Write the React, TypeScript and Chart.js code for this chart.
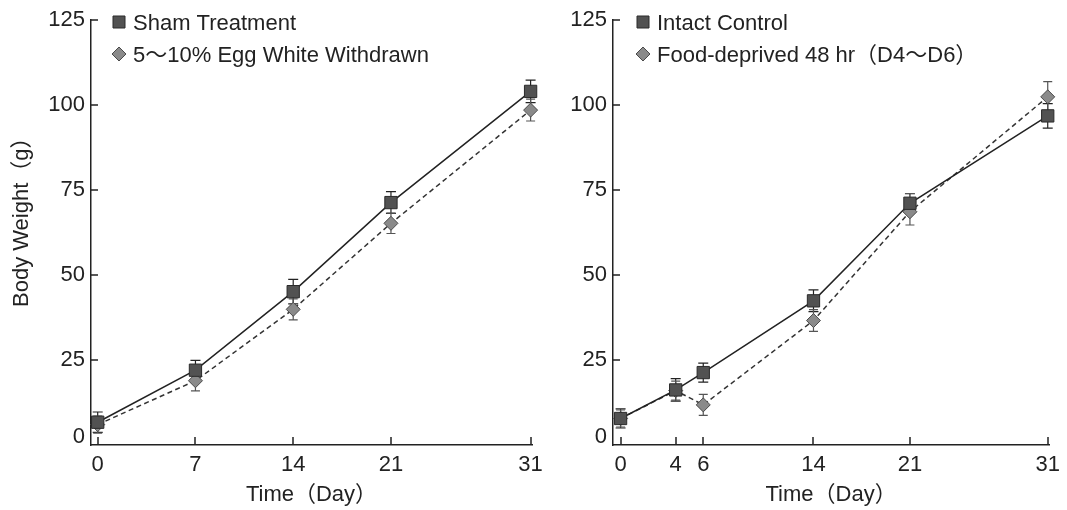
import React, { useEffect, useRef } from 'react';
import { Chart, registerables } from 'chart.js';

Chart.register(...registerables);

const FONT = "'Liberation Sans', 'Noto Sans CJK JP', sans-serif";
const TEXT = '#222';

// ---- Left panel data ----
const leftDays = [0, 7, 14, 21, 31];
const shamWeight = [6.7, 22.0, 45.1, 71.3, 104.0];
const shamErr = [3.0, 2.9, 3.6, 3.2, 3.3];
const eggWeight = [6.0, 18.9, 39.9, 65.2, 98.5];
const eggErr = [2.5, 3.0, 3.1, 3.0, 3.2];
const leftLabels = ['Sham Treatment', '5～10% Egg White Withdrawn'];

// ---- Right panel data ----
const rightDays = [0, 4, 6, 14, 21, 31];
const intactWeight = [7.8, 16.2, 21.3, 42.4, 71.1, 96.8];
const intactErr = [2.8, 3.3, 2.8, 3.2, 2.8, 3.6];
const foodWeight = [7.8, 16.0, 11.8, 36.6, 68.6, 102.4];
const foodErr = [2.5, 2.8, 3.1, 3.2, 3.9, 4.5];
const rightLabels = ['Intact Control', 'Food-deprived 48 hr（D4～D6）'];

// ---- Axis ticks / titles ----
const yTicks = [0, 25, 50, 75, 100, 125];
const xTitle = 'Time（Day）';
const yTitle = 'Body Weight（g）';

const decorPlugin = {
  id: 'decor',
  beforeDatasetsDraw(chart: any) {
    const ctx = chart.ctx;
    const xs = chart.scales.x;
    const ys = chart.scales.y;
    chart.data.datasets.forEach((ds: any) => {
      const errs = ds.errors;
      if (!errs) return;
      const half = ds.capHalf;
      ctx.save();
      ctx.strokeStyle = ds.errColor;
      ctx.lineWidth = 1.2;
      ds.data.forEach((p: any, j: number) => {
        const x = xs.getPixelForValue(p.x);
        const y1 = ys.getPixelForValue(p.y + errs[j]);
        const y2 = ys.getPixelForValue(p.y - errs[j]);
        ctx.beginPath();
        ctx.moveTo(x, y1);
        ctx.lineTo(x, y2);
        ctx.moveTo(x - half, y1);
        ctx.lineTo(x + half, y1);
        ctx.moveTo(x - half, y2);
        ctx.lineTo(x + half, y2);
        ctx.stroke();
      });
      ctx.restore();
    });
  },
  afterDraw(chart: any, _args: any, opts: any) {
    const ctx = chart.ctx;
    const xs = chart.scales.x;
    const ys = chart.scales.y;
    const area = chart.chartArea;
    ctx.save();
    // inward tick marks
    ctx.strokeStyle = '#222';
    ctx.lineWidth = 1.5;
    ctx.beginPath();
    ys.ticks.forEach((t: any) => {
      if (t.value === 0) return;
      const y = Math.round(ys.getPixelForValue(t.value));
      ctx.moveTo(area.left, y);
      ctx.lineTo(area.left + 7, y);
    });
    xs.ticks.forEach((t: any) => {
      const x = Math.round(xs.getPixelForValue(t.value));
      ctx.moveTo(x, area.bottom);
      ctx.lineTo(x, area.bottom - 8);
    });
    ctx.stroke();

    // legend
    ctx.font = `22px ${FONT}`;
    ctx.textBaseline = 'alphabetic';
    ctx.textAlign = 'left';
    chart.data.datasets.forEach((ds: any, i: number) => {
      const cy = opts.legendY[i];
      const cx = opts.markerX;
      ctx.fillStyle = ds.pointBackgroundColor;
      ctx.strokeStyle = ds.pointBorderColor;
      ctx.lineWidth = 1;
      ctx.beginPath();
      if (ds.pointStyle === 'rect') {
        ctx.rect(cx - 6, cy - 6, 12, 12);
      } else {
        ctx.moveTo(cx, cy - 7);
        ctx.lineTo(cx + 7, cy);
        ctx.lineTo(cx, cy + 7);
        ctx.lineTo(cx - 7, cy);
        ctx.closePath();
      }
      ctx.fill();
      ctx.stroke();
      ctx.fillStyle = TEXT;
      ctx.fillText(ds.label, opts.textX, cy + 8);
    });

    // y-axis title
    if (opts.yTitle) {
      ctx.translate(opts.yTitle.x, opts.yTitle.y);
      ctx.rotate(-Math.PI / 2);
      ctx.fillStyle = TEXT;
      ctx.fillText(opts.yTitle.text, 0, 0);
    }
    ctx.restore();
  },
};

type PanelSpec = {
  days: number[];
  s1: number[];
  e1: number[];
  s2: number[];
  e2: number[];
  labels: string[];
  yAxisWidth: number;
  padRight: number;
  xMin: number;
  xMax: number;
  markerX: number;
  textX: number;
  yTitle?: { text: string; x: number; y: number };
};

function buildConfig(p: PanelSpec): any {
  const grid = { display: true, drawOnChartArea: false, drawTicks: false };
  const border = { display: true, color: '#222', width: 1.5 };
  return {
    type: 'scatter',
    data: {
      datasets: [
        {
          label: p.labels[0],
          data: p.days.map((d, i) => ({ x: d, y: p.s1[i] })),
          showLine: true,
          borderColor: '#222',
          borderWidth: 1.5,
          pointStyle: 'rect',
          pointRadius: 8.7,
          pointBackgroundColor: '#525252',
          pointBorderColor: '#2b2b2b',
          pointBorderWidth: 1,
          clip: false,
          errors: p.e1,
          errColor: '#222',
          capHalf: 5,
        },
        {
          label: p.labels[1],
          data: p.days.map((d, i) => ({ x: d, y: p.s2[i] })),
          showLine: true,
          borderColor: '#333',
          borderWidth: 1.5,
          borderDash: [5, 3.5],
          pointStyle: 'rectRot',
          pointRadius: 7,
          pointBackgroundColor: '#8a8a8a',
          pointBorderColor: '#4a4a4a',
          pointBorderWidth: 1,
          clip: false,
          errors: p.e2,
          errColor: '#555',
          capHalf: 4.5,
        },
      ],
    },
    options: {
      responsive: false,
      animation: false,
      devicePixelRatio: 1,
      events: [],
      layout: { padding: { left: 0, top: 20, right: p.padRight, bottom: 0 } },
      scales: {
        x: {
          type: 'linear',
          min: p.xMin,
          max: p.xMax,
          afterBuildTicks: (s: any) => {
            s.ticks = p.days.map((v) => ({ value: v }));
          },
          afterFit: (s: any) => {
            s.height = 65;
          },
          grid,
          border,
          ticks: {
            color: TEXT,
            padding: 7,
            autoSkip: false,
            maxRotation: 0,
            font: { family: FONT, size: 22 },
            callback: (v: any) => String(v),
          },
          title: {
            display: true,
            text: xTitle,
            color: TEXT,
            font: { family: FONT, size: 22 },
            padding: { top: 0, bottom: 2 },
          },
        },
        y: {
          type: 'linear',
          min: 0,
          max: 125,
          afterBuildTicks: (s: any) => {
            s.ticks = yTicks.map((v) => ({ value: v }));
          },
          afterFit: (s: any) => {
            s.width = p.yAxisWidth;
          },
          grid,
          border,
          ticks: {
            color: TEXT,
            padding: 6,
            font: { family: FONT, size: 22, lineHeight: '16px' },
            callback: (v: any) => (v === 0 ? ['0', ''] : String(v)),
          },
        },
      },
      plugins: {
        legend: { display: false },
        tooltip: { enabled: false },
        decor: {
          legendY: [22, 54],
          markerX: p.markerX,
          textX: p.textX,
          yTitle: p.yTitle,
        },
      },
    },
    plugins: [decorPlugin],
  };
}

function Panel({ spec, left, width }: { spec: PanelSpec; left: number; width: number }) {
  const ref = useRef<HTMLCanvasElement>(null);
  useEffect(() => {
    const chart = new Chart(ref.current as HTMLCanvasElement, buildConfig(spec));
    return () => chart.destroy();
  }, []);
  return (
    <canvas
      ref={ref}
      width={width}
      height={510}
      style={{ position: 'absolute', left, top: 0, width, height: 510 }}
    />
  );
}

const leftSpec: PanelSpec = {
  days: leftDays,
  s1: shamWeight,
  e1: shamErr,
  s2: eggWeight,
  e2: eggErr,
  labels: leftLabels,
  yAxisWidth: 91,
  padRight: 18,
  xMin: -0.48,
  xMax: 31.1,
  markerX: 119,
  textX: 133,
  yTitle: { text: yTitle, x: 28, y: 307 },
};

const rightSpec: PanelSpec = {
  days: rightDays,
  s1: intactWeight,
  e1: intactErr,
  s2: foodWeight,
  e2: foodErr,
  labels: rightLabels,
  yAxisWidth: 80,
  padRight: 12,
  xMin: -0.55,
  xMax: 31.1,
  markerX: 110,
  textX: 124,
};

export default function App() {
  return (
    <div style={{ position: 'fixed', left: 0, top: 0, width: 1067, height: 510, background: '#fff' }}>
      <Panel spec={leftSpec} left={0} width={550} />
      <Panel spec={rightSpec} left={533} width={534} />
    </div>
  );
}
